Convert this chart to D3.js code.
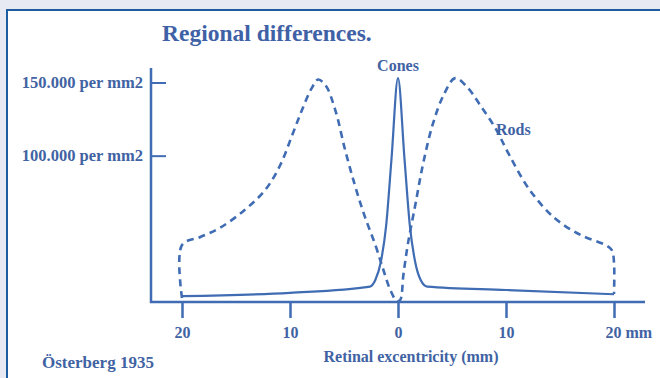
<!DOCTYPE html>
<html>
<head>
<meta charset="utf-8">
<script src="https://d3js.org/d3.v7.min.js"></script>
<style>
  body { margin: 0; background: #e7eaf2; }
  svg { display: block; }
  text { font-family: "Liberation Serif", "DejaVu Serif", serif; fill: #4163a3; font-weight: bold; }
</style>
</head>
<body>
<svg width="660" height="378"></svg>
<script>
// eccentricity in mm (negative = left side of the fovea), density per mm2
var coneMm      = [-20, -10, -2.6, -2.1, -1.6, -1.1, -0.6, 0, 0.6, 1.1, 1.6, 2.1, 2.7, 10, 20];
var coneDensity = [4000, 6300, 10500, 15000, 27000, 52000, 98000, 153000, 98000, 52000, 27000, 15000, 10500, 8200, 5300];

var rodMm      = [-20, -20, -18.3, -16.5, -14.2, -12.3, -10.9, -9.8, -8.9, -8.0, -7.4, -6.7, -5.8, -4.9, -4.0, -3.1, -2.1, -1.4, -0.7, -0.1,
                  0.2, 0.5, 0.9, 1.6, 2.3, 3.2, 4.2, 5.3, 6.5, 7.6, 9.0, 10.3, 12.2, 14.5, 16.9, 19.2, 19.8, 20, 20];
var rodDensity = [2700, 39000, 44400, 50600, 62900, 76500, 93600, 114000, 131000, 146000, 152000, 148000, 131000, 104000, 80000, 59000, 39000, 23000, 8000, 600,
                  1400, 18500, 39000, 66300, 93600, 121000, 141000, 153000, 146000, 134600, 119000, 100500, 76500, 57400, 45800, 39000, 35500, 27000, 5500];

var xTicks = [-20, -10, 0, 10, 20];
var yTicks = [100000, 150000];
var yTickLabels = ["100.000 per mm2", "150.000 per mm2"];

var blue = "#3f6cb3";

var svg = d3.select("svg");

// panel
svg.append("rect")
    .attr("x", 7).attr("y", 10)
    .attr("width", 670).attr("height", 380)
    .attr("fill", "#fff")
    .attr("stroke", "#1d5c9f")
    .attr("stroke-width", 2);

var x = d3.scaleLinear().domain([-20, 20]).range([182, 614]);
var y = d3.scaleLinear().domain([0, 150000]).range([302, 82.5]);

var axisLeftX = 151, axisTopY = 68, axisRightX = 645;

svg.append("text")
    .attr("x", 162).attr("y", 41)
    .style("font-size", "23.5px")
    .style("fill", "#3f61a6")
    .text("Regional differences.");

// axis lines
svg.append("path")
    .attr("d", "M" + axisLeftX + "," + axisTopY + "V" + y(0) + "H" + axisRightX)
    .attr("fill", "none")
    .attr("stroke", blue)
    .attr("stroke-width", 2.5);

// y axis (ticks point inward)
var yAxis = svg.append("g")
    .attr("transform", "translate(" + axisLeftX + ",0)")
    .call(d3.axisLeft(y).tickValues(yTicks).tickSize(-15).tickPadding(8)
        .tickFormat(function (d, i) { return yTickLabels[i]; }));
yAxis.select(".domain").remove();
yAxis.selectAll("line").attr("stroke", blue).attr("stroke-width", 2);
yAxis.selectAll("text").style("font-size", "16.5px").style("fill", "#4163a3")
    .attr("font-family", null);

// x axis
var xAxis = svg.append("g")
    .attr("transform", "translate(0," + y(0) + ")")
    .call(d3.axisBottom(x).tickValues(xTicks).tickSize(16).tickPadding(9)
        .tickFormat(function (d) { return Math.abs(d); }));
xAxis.select(".domain").remove();
xAxis.selectAll("line").attr("stroke", blue).attr("stroke-width", 2.5);
xAxis.selectAll("text").style("font-size", "16px").style("fill", "#4163a3")
    .attr("font-family", null);
xAxis.selectAll(".tick").filter(function (d) { return d === 20; }).select("text")
    .attr("text-anchor", "start").attr("x", -9)
    .text("20 mm");

svg.append("text")
    .attr("x", 411).attr("y", 362)
    .attr("text-anchor", "middle")
    .style("font-size", "16px")
    .text("Retinal excentricity (mm)");

svg.append("text")
    .attr("x", 42).attr("y", 368)
    .style("font-size", "17px")
    .text("Österberg 1935");

var line = d3.line()
    .x(function (d) { return x(d[0]); })
    .y(function (d) { return y(d[1]); });

svg.append("path")
    .datum(d3.zip(rodMm, rodDensity))
    .attr("d", line.curve(d3.curveCatmullRom.alpha(0.5)))
    .attr("fill", "none")
    .attr("stroke", blue)
    .attr("stroke-width", 2.6)
    .attr("stroke-dasharray", "7,5");

svg.append("path")
    .datum(d3.zip(coneMm, coneDensity))
    .attr("d", line.curve(d3.curveMonotoneX))
    .attr("fill", "none")
    .attr("stroke", blue)
    .attr("stroke-width", 2.2);

svg.append("text")
    .attr("x", x(0)).attr("y", 71)
    .attr("text-anchor", "middle")
    .style("font-size", "16px")
    .text("Cones");

svg.append("text")
    .attr("x", 496).attr("y", 135)
    .style("font-size", "16px")
    .text("Rods");
</script>
</body>
</html>
